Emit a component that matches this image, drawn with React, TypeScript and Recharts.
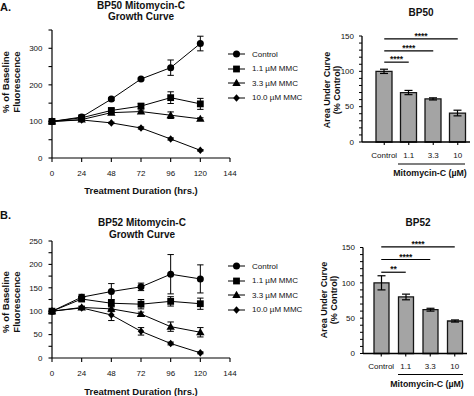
import React from 'react';
import { LineChart, Line, XAxis, YAxis, ErrorBar, Legend, BarChart, Bar, ReferenceLine } from 'recharts';

const FONT = '"Liberation Sans", Arial, Helvetica, sans-serif';
const INK = '#111';

// ---------- Growth curves ----------
const hours = [0, 24, 48, 72, 96, 120];
const hourTicks = [0, 24, 48, 72, 96, 120, 144];
const seriesKeys = ['control', 'mmc11', 'mmc33', 'mmc100'];
const seriesNames = ['Control', '1.1 µM MMC', '3.3 µM MMC', '10.0 µM MMC'];
const seriesShapes = ['circle', 'square', 'triangle', 'diamond'];

const bp50Control = [100, 112, 161, 216, 247, 313];
const bp50ControlErr = [0, 3, 4, 3, 21, 20];
const bp50Mmc11 = [100, 110, 130, 142, 165, 148];
const bp50Mmc11Err = [0, 3, 5, 7, 16, 15];
const bp50Mmc33 = [100, 105, 124, 127, 117, 107];
const bp50Mmc33Err = [0, 2, 4, 4, 9, 3];
const bp50Mmc100 = [100, 104, 96, 82, 52, 21];
const bp50Mmc100Err = [0, 2, 2, 3, 3, 2];

const bp52Control = [100, 130, 142, 152, 179, 169];
const bp52ControlErr = [0, 6, 17, 8, 42, 30];
const bp52Mmc11 = [100, 126, 117, 115, 121, 116];
const bp52Mmc11Err = [0, 4, 8, 10, 10, 12];
const bp52Mmc33 = [100, 108, 105, 94, 67, 55];
const bp52Mmc33Err = [0, 3, 6, 4, 10, 10];
const bp52Mmc100 = [100, 107, 92, 57, 31, 11];
const bp52Mmc100Err = [0, 3, 12, 8, 3, 2];

const bp50YTicks = [0, 50, 100, 150, 200, 250, 300, 350];
const bp52YTicks = [0, 25, 50, 75, 100, 125, 150, 175, 200, 225, 250];

// ---------- Area under curve ----------
const doses = ['Control', '1.1', '3.3', '10'];
const bp50Auc = [100, 70, 61, 41];
const bp50AucErr = [3, 3, 1.5, 4];
const bp52Auc = [100, 80, 62, 46];
const bp52AucErr = [10, 4, 2, 1.5];
const aucTicks = [0, 10, 20, 30, 40, 50, 60, 70, 80, 90, 100, 110, 120, 130, 140, 150];

const bp50SigTargets = ['10', '3.3', '1.1'];
const bp50SigLevels = [146, 129, 113];
const bp50SigLabels = ['****', '****', '****'];
const bp52SigTargets = ['10', '3.3', '1.1'];
const bp52SigLevels = [151, 133, 115];
const bp52SigLabels = ['****', '****', '**'];

function buildGrowthRows(values: number[][], errs: number[][]) {
  return hours.map((h, i) => {
    const row: any = { h };
    seriesKeys.forEach((k, j) => {
      row[k] = values[j][i];
      row[k + 'Err'] = errs[j][i];
    });
    return row;
  });
}

const bp50Rows = buildGrowthRows(
  [bp50Control, bp50Mmc11, bp50Mmc33, bp50Mmc100],
  [bp50ControlErr, bp50Mmc11Err, bp50Mmc33Err, bp50Mmc100Err]
);
const bp52Rows = buildGrowthRows(
  [bp52Control, bp52Mmc11, bp52Mmc33, bp52Mmc100],
  [bp52ControlErr, bp52Mmc11Err, bp52Mmc33Err, bp52Mmc100Err]
);
const bp50AucRows = doses.map((d, i) => ({ dose: d, auc: bp50Auc[i], err: bp50AucErr[i] }));
const bp52AucRows = doses.map((d, i) => ({ dose: d, auc: bp52Auc[i], err: bp52AucErr[i] }));

function Marker({ cx, cy, shape }: { cx: number; cy: number; shape: string }) {
  if (cx == null || cy == null) return <g />;
  if (shape === 'circle') return <circle cx={cx} cy={cy} r={3.5} fill="#000" />;
  if (shape === 'square') return <rect x={cx - 3.4} y={cy - 3.4} width={6.8} height={6.8} fill="#000" />;
  if (shape === 'triangle')
    return <path d={`M${cx},${cy - 4.2} L${cx + 4.2},${cy + 3} L${cx - 4.2},${cy + 3} Z`} fill="#000" />;
  return <path d={`M${cx},${cy - 3.8} L${cx + 3.3},${cy} L${cx},${cy + 3.8} L${cx - 3.3},${cy} Z`} fill="#000" />;
}

const GrowthLegend = () => (
  <div style={{ fontFamily: FONT, fontSize: 8, color: INK }}>
    {seriesNames.map((n, i) => (
      <div key={n} style={{ height: 14.5, display: 'flex', alignItems: 'center' }}>
        <svg width={22} height={10} style={{ display: 'block' }}>
          <line x1={2} x2={19} y1={5} y2={5} stroke="#000" strokeWidth={1} />
          <Marker cx={10.5} cy={5} shape={seriesShapes[i]} />
        </svg>
        <span style={{ marginLeft: 4, whiteSpace: 'nowrap' }}>{n}</span>
      </div>
    ))}
  </div>
);

const makeYTick = (major: number) => (p: any) =>
  p.payload.value % major === 0 ? (
    <text x={p.x} y={p.y} dy="0.35em" textAnchor="end" fontSize={8} fontFamily={FONT} fill={INK}>
      {p.payload.value}
    </text>
  ) : (
    <g />
  );

const rotatedLabel = (lines: string[], xs: number[], cy: number, size: number) => () => (
  <g>
    {lines.map((t, i) => (
      <text
        key={t}
        x={xs[i]}
        y={cy}
        transform={`rotate(-90 ${xs[i]} ${cy})`}
        textAnchor="middle"
        dominantBaseline="central"
        fontSize={size}
        fontWeight="bold"
        fontFamily={FONT}
        fill={INK}
      >
        {t}
      </text>
    ))}
  </g>
);

const hoursLabel = (dy: number) => (p: any) => {
  const vb = p.viewBox;
  return (
    <text
      x={vb.x + vb.width / 2}
      y={vb.y + dy}
      textAnchor="middle"
      dominantBaseline="central"
      fontSize={9.5}
      fontWeight="bold"
      fontFamily={FONT}
      fill={INK}
    >
      Treatment Duration (hrs.)
    </text>
  );
};

const doseLabel = (lineDy: number, lineX1: number, lineX2: number, textDy: number, textDx: number) => (p: any) => {
  const vb = p.viewBox;
  return (
    <g>
      <line x1={vb.x + lineX1} x2={vb.x + lineX2} y1={vb.y + lineDy} y2={vb.y + lineDy} stroke="#000" strokeWidth={1.2} />
      <text
        x={vb.x + textDx}
        y={vb.y + textDy}
        textAnchor="middle"
        dominantBaseline="central"
        fontSize={8.8}
        fontWeight="bold"
        fontFamily={FONT}
        fill={INK}
      >
        Mitomycin-C (µM)
      </text>
    </g>
  );
};

function GrowthChart(props: {
  rows: any[];
  height: number;
  margin: any;
  yMax: number;
  yTicks: number[];
  major: number;
  xLabelDy: number;
  yLabelCy: number;
  legendTop: number;
}) {
  const { rows, height, margin, yMax, yTicks, major, xLabelDy, yLabelCy, legendTop } = props;
  return (
    <LineChart width={330} height={height} data={rows} margin={margin}>
      <XAxis
        dataKey="h"
        type="number"
        domain={[0, 144]}
        ticks={hourTicks}
        interval={0}
        height={30}
        tickSize={4}
        tickMargin={8}
        axisLine={{ stroke: '#000', strokeWidth: 1.2 }}
        tickLine={{ stroke: '#000', strokeWidth: 1.1 }}
        tick={{ fontSize: 8, fill: INK, fontFamily: FONT }}
        label={hoursLabel(xLabelDy)}
      />
      <YAxis
        type="number"
        domain={[0, yMax]}
        ticks={yTicks}
        interval={0}
        width={52}
        tickSize={3.5}
        tickMargin={6}
        axisLine={{ stroke: '#000', strokeWidth: 1.2 }}
        tickLine={{ stroke: '#000', strokeWidth: 1.1 }}
        tick={makeYTick(major)}
        label={rotatedLabel(['% of Baseline', 'Fluorescence'], [5, 16], yLabelCy, 9.5)}
      />
      <Legend
        content={<GrowthLegend />}
        layout="vertical"
        align="center"
        verticalAlign="middle"
        wrapperStyle={{ left: 226, top: legendTop, width: 100 }}
      />
      {seriesKeys.map((k, i) => (
        <Line
          key={k}
          dataKey={k}
          name={seriesNames[i]}
          stroke="#000"
          strokeWidth={1}
          isAnimationActive={false}
          activeDot={false}
          dot={(d: any) => <Marker key={`${k}-${d.index}`} cx={d.cx} cy={d.cy} shape={seriesShapes[i]} />}
        >
          <ErrorBar dataKey={k + 'Err'} width={3.2} stroke="#000" strokeWidth={1} direction="y" />
        </Line>
      ))}
    </LineChart>
  );
}

function AucChart(props: {
  rows: any[];
  height: number;
  margin: any;
  yAxisWidth: number;
  padLeft: number;
  barSize: number;
  sigTargets: string[];
  sigLevels: number[];
  sigLabels: string[];
  yLabelXs: number[];
  yLabelCy: number;
  dose: number[];
}) {
  const { rows, height, margin, yAxisWidth, padLeft, barSize, sigTargets, sigLevels, sigLabels, yLabelXs, yLabelCy, dose } = props;
  return (
    <BarChart width={174} height={height} data={rows} margin={margin}>
      <XAxis
        dataKey="dose"
        height={30}
        tickSize={3}
        tickMargin={7}
        interval={0}
        padding={{ left: padLeft, right: 0 }}
        axisLine={{ stroke: '#000', strokeWidth: 1.3 }}
        tickLine={{ stroke: '#000', strokeWidth: 1.1 }}
        tick={{ fontSize: 8, fill: INK, fontFamily: FONT }}
        label={doseLabel(dose[0], dose[1], dose[2], dose[3], dose[4])}
      />
      <YAxis
        type="number"
        domain={[0, 150]}
        ticks={aucTicks}
        interval={0}
        width={yAxisWidth}
        tickSize={3}
        tickMargin={5}
        axisLine={{ stroke: '#000', strokeWidth: 1.3 }}
        tickLine={{ stroke: '#000', strokeWidth: 1 }}
        tick={makeYTick(50)}
        label={rotatedLabel(['Area Under Curve', '(% Control)'], yLabelXs, yLabelCy, 9)}
      />
      <Bar dataKey="auc" fill="#a4a4a4" stroke="#151515" strokeWidth={1.3} barSize={barSize} isAnimationActive={false}>
        <ErrorBar dataKey="err" width={4} stroke="#000" strokeWidth={1.2} direction="y" />
      </Bar>
      {sigTargets.map((t, i) => (
        <ReferenceLine
          key={t}
          segment={[
            { x: doses[0], y: sigLevels[i] },
            { x: t, y: sigLevels[i] },
          ]}
          stroke="#000"
          strokeWidth={1.2}
          ifOverflow="visible"
          label={{ value: sigLabels[i], position: 'top', offset: 0, fontSize: 8.5, fontWeight: 'bold', fill: INK, fontFamily: FONT }}
        />
      ))}
    </BarChart>
  );
}

function TextBlock({ lines, cx, top, size, lh }: { lines: string[]; cx: number; top: number; size: number; lh: number }) {
  return (
    <div
      style={{
        position: 'absolute',
        left: cx - 120,
        width: 240,
        top,
        textAlign: 'center',
        fontFamily: FONT,
        fontWeight: 'bold',
        fontSize: size,
        lineHeight: `${lh}px`,
        color: INK,
        whiteSpace: 'nowrap',
      }}
    >
      {lines.map((l) => (
        <div key={l}>{l}</div>
      ))}
    </div>
  );
}

function PanelLetter({ text, top }: { text: string; top: number }) {
  return (
    <div
      style={{
        position: 'absolute',
        left: 0,
        top,
        fontFamily: FONT,
        fontWeight: 'bold',
        fontSize: 11,
        lineHeight: '13px',
        color: INK,
      }}
    >
      {text}
    </div>
  );
}

export default function App() {
  return (
    <div style={{ position: 'absolute', left: 0, top: 0, width: 474, height: 396, background: '#fff', overflow: 'hidden' }}>
      <div style={{ position: 'absolute', left: 0, top: 0 }}>
        <GrowthChart
          rows={bp50Rows}
          height={200}
          margin={{ top: 30, right: 100, bottom: 12, left: 0 }}
          yMax={350}
          yTicks={bp50YTicks}
          major={100}
          xLabelDy={32}
          yLabelCy={82}
          legendTop={46.75}
        />
      </div>
      <div style={{ position: 'absolute', left: 0, top: 200 }}>
        <GrowthChart
          rows={bp52Rows}
          height={196}
          margin={{ top: 41, right: 100, bottom: 8, left: 0 }}
          yMax={250}
          yTicks={bp52YTicks}
          major={50}
          xLabelDy={33}
          yLabelCy={102}
          legendTop={58.75}
        />
      </div>
      <div style={{ position: 'absolute', left: 300, top: 0 }}>
        <AucChart
          rows={bp50AucRows}
          height={200}
          margin={{ top: 36, right: 4, bottom: 28, left: 0 }}
          yAxisWidth={62}
          padLeft={10}
          barSize={16}
          sigTargets={bp50SigTargets}
          sigLevels={bp50SigLevels}
          sigLabels={bp50SigLabels}
          yLabelXs={[27, 37]}
          yLabelCy={90}
          dose={[22, 36, 103, 31, 68]}
        />
      </div>
      <div style={{ position: 'absolute', left: 300, top: 210 }}>
        <AucChart
          rows={bp52AucRows}
          height={186}
          margin={{ top: 37.5, right: 7, bottom: 12.5, left: 0 }}
          yAxisWidth={63}
          padLeft={6}
          barSize={15}
          sigTargets={bp52SigTargets}
          sigLevels={bp52SigLevels}
          sigLabels={bp52SigLabels}
          yLabelXs={[24, 34]}
          yLabelCy={90}
          dose={[21, 35, 100, 30, 64]}
        />
      </div>
      <PanelLetter text="A." top={1} />
      <TextBlock lines={['BP50 Mitomycin-C', 'Growth Curve']} cx={141} top={-0.5} size={10} lh={11.5} />
      <TextBlock lines={['BP50']} cx={421} top={7} size={10} lh={12} />
      <PanelLetter text="B." top={208.5} />
      <TextBlock lines={['BP52 Mitomycin-C', 'Growth Curve']} cx={142} top={217} size={10} lh={11.5} />
      <TextBlock lines={['BP52']} cx={418} top={217} size={10} lh={12} />
    </div>
  );
}
